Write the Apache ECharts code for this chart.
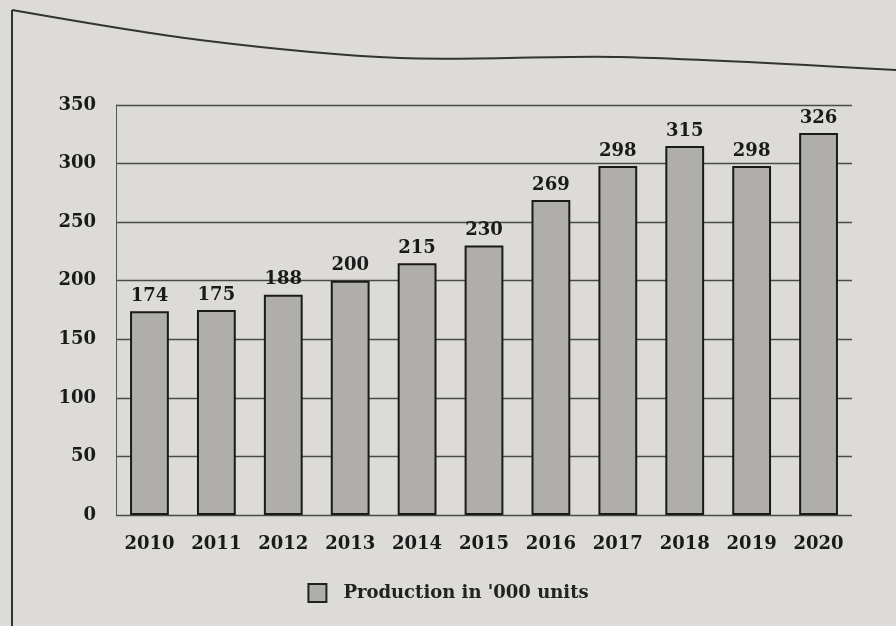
<!DOCTYPE html>
<html>
<head>
<meta charset="utf-8">
<script src="https://cdn.jsdelivr.net/npm/echarts@6/dist/echarts.min.js"></script>
<style>
html,body{margin:0;padding:0;background:#dddbd7;}
#chart{width:896px;height:626px;}
</style>
</head>
<body>
<div id="chart"></div>
<script>
const years = ['2010','2011','2012','2013','2014','2015','2016','2017','2018','2019','2020'];
const production = [174,175,188,200,215,230,269,298,315,298,326];
const yTicks = [0,50,100,150,200,250,300,350];
const seriesName = "Production in '000 units";

const chart = echarts.init(document.getElementById('chart'));
const font = 'DejaVu Serif';
chart.setOption({
  backgroundColor: '#dddbd7',
  animation: false,
  graphic: [{
    type: 'polyline',
    shape: { points: [[12, 10], [200, 40], [400, 58], [620, 57], [896, 70]], smooth: 0.3 },
    style: { stroke: '#333', lineWidth: 2, fill: null }
  }, {
    type: 'line',
    shape: { x1: 12, y1: 10, x2: 12, y2: 626 },
    style: { stroke: '#333', lineWidth: 2 }
  }],
  grid: { left: 116, right: 44, top: 105, bottom: 111 },
  legend: {
    bottom: 18, left: 'center',
    icon: 'rect', itemWidth: 18, itemHeight: 18, itemGap: 12,
    textStyle: { fontFamily: font, fontSize: 18, fontWeight: 'bold', color: '#222', padding: [0, 0, 0, 12] },
    data: [{ name: seriesName, itemStyle: { color: '#b0aeab', borderColor: '#222', borderWidth: 2 } }]
  },
  xAxis: {
    type: 'category', data: years,
    axisLine: { show: false }, axisTick: { show: false },
    axisLabel: { fontFamily: font, fontSize: 18, fontWeight: 'bold', color: '#1a1a1a', margin: 20 }
  },
  yAxis: {
    type: 'value', min: 0, max: 350, interval: 50,
    axisLine: { show: true, lineStyle: { color: '#555', width: 1 } },
    axisLabel: { fontFamily: font, fontSize: 18, fontWeight: 'bold', color: '#1a1a1a', margin: 20,
      formatter: v => yTicks.includes(v) ? String(v) : '' },
    splitLine: { lineStyle: { color: '#4a4a4a', width: 1.3 } }
  },
  series: [{
    name: seriesName, type: 'bar', data: production, barWidth: '58%',
    itemStyle: { color: '#b0aeab', borderColor: '#1a1a1a', borderWidth: 2 },
    label: { show: true, position: 'top', distance: 6, fontFamily: font, fontSize: 18, fontWeight: 'bold', color: '#1a1a1a' }
  }]
});
</script>
</body>
</html>
